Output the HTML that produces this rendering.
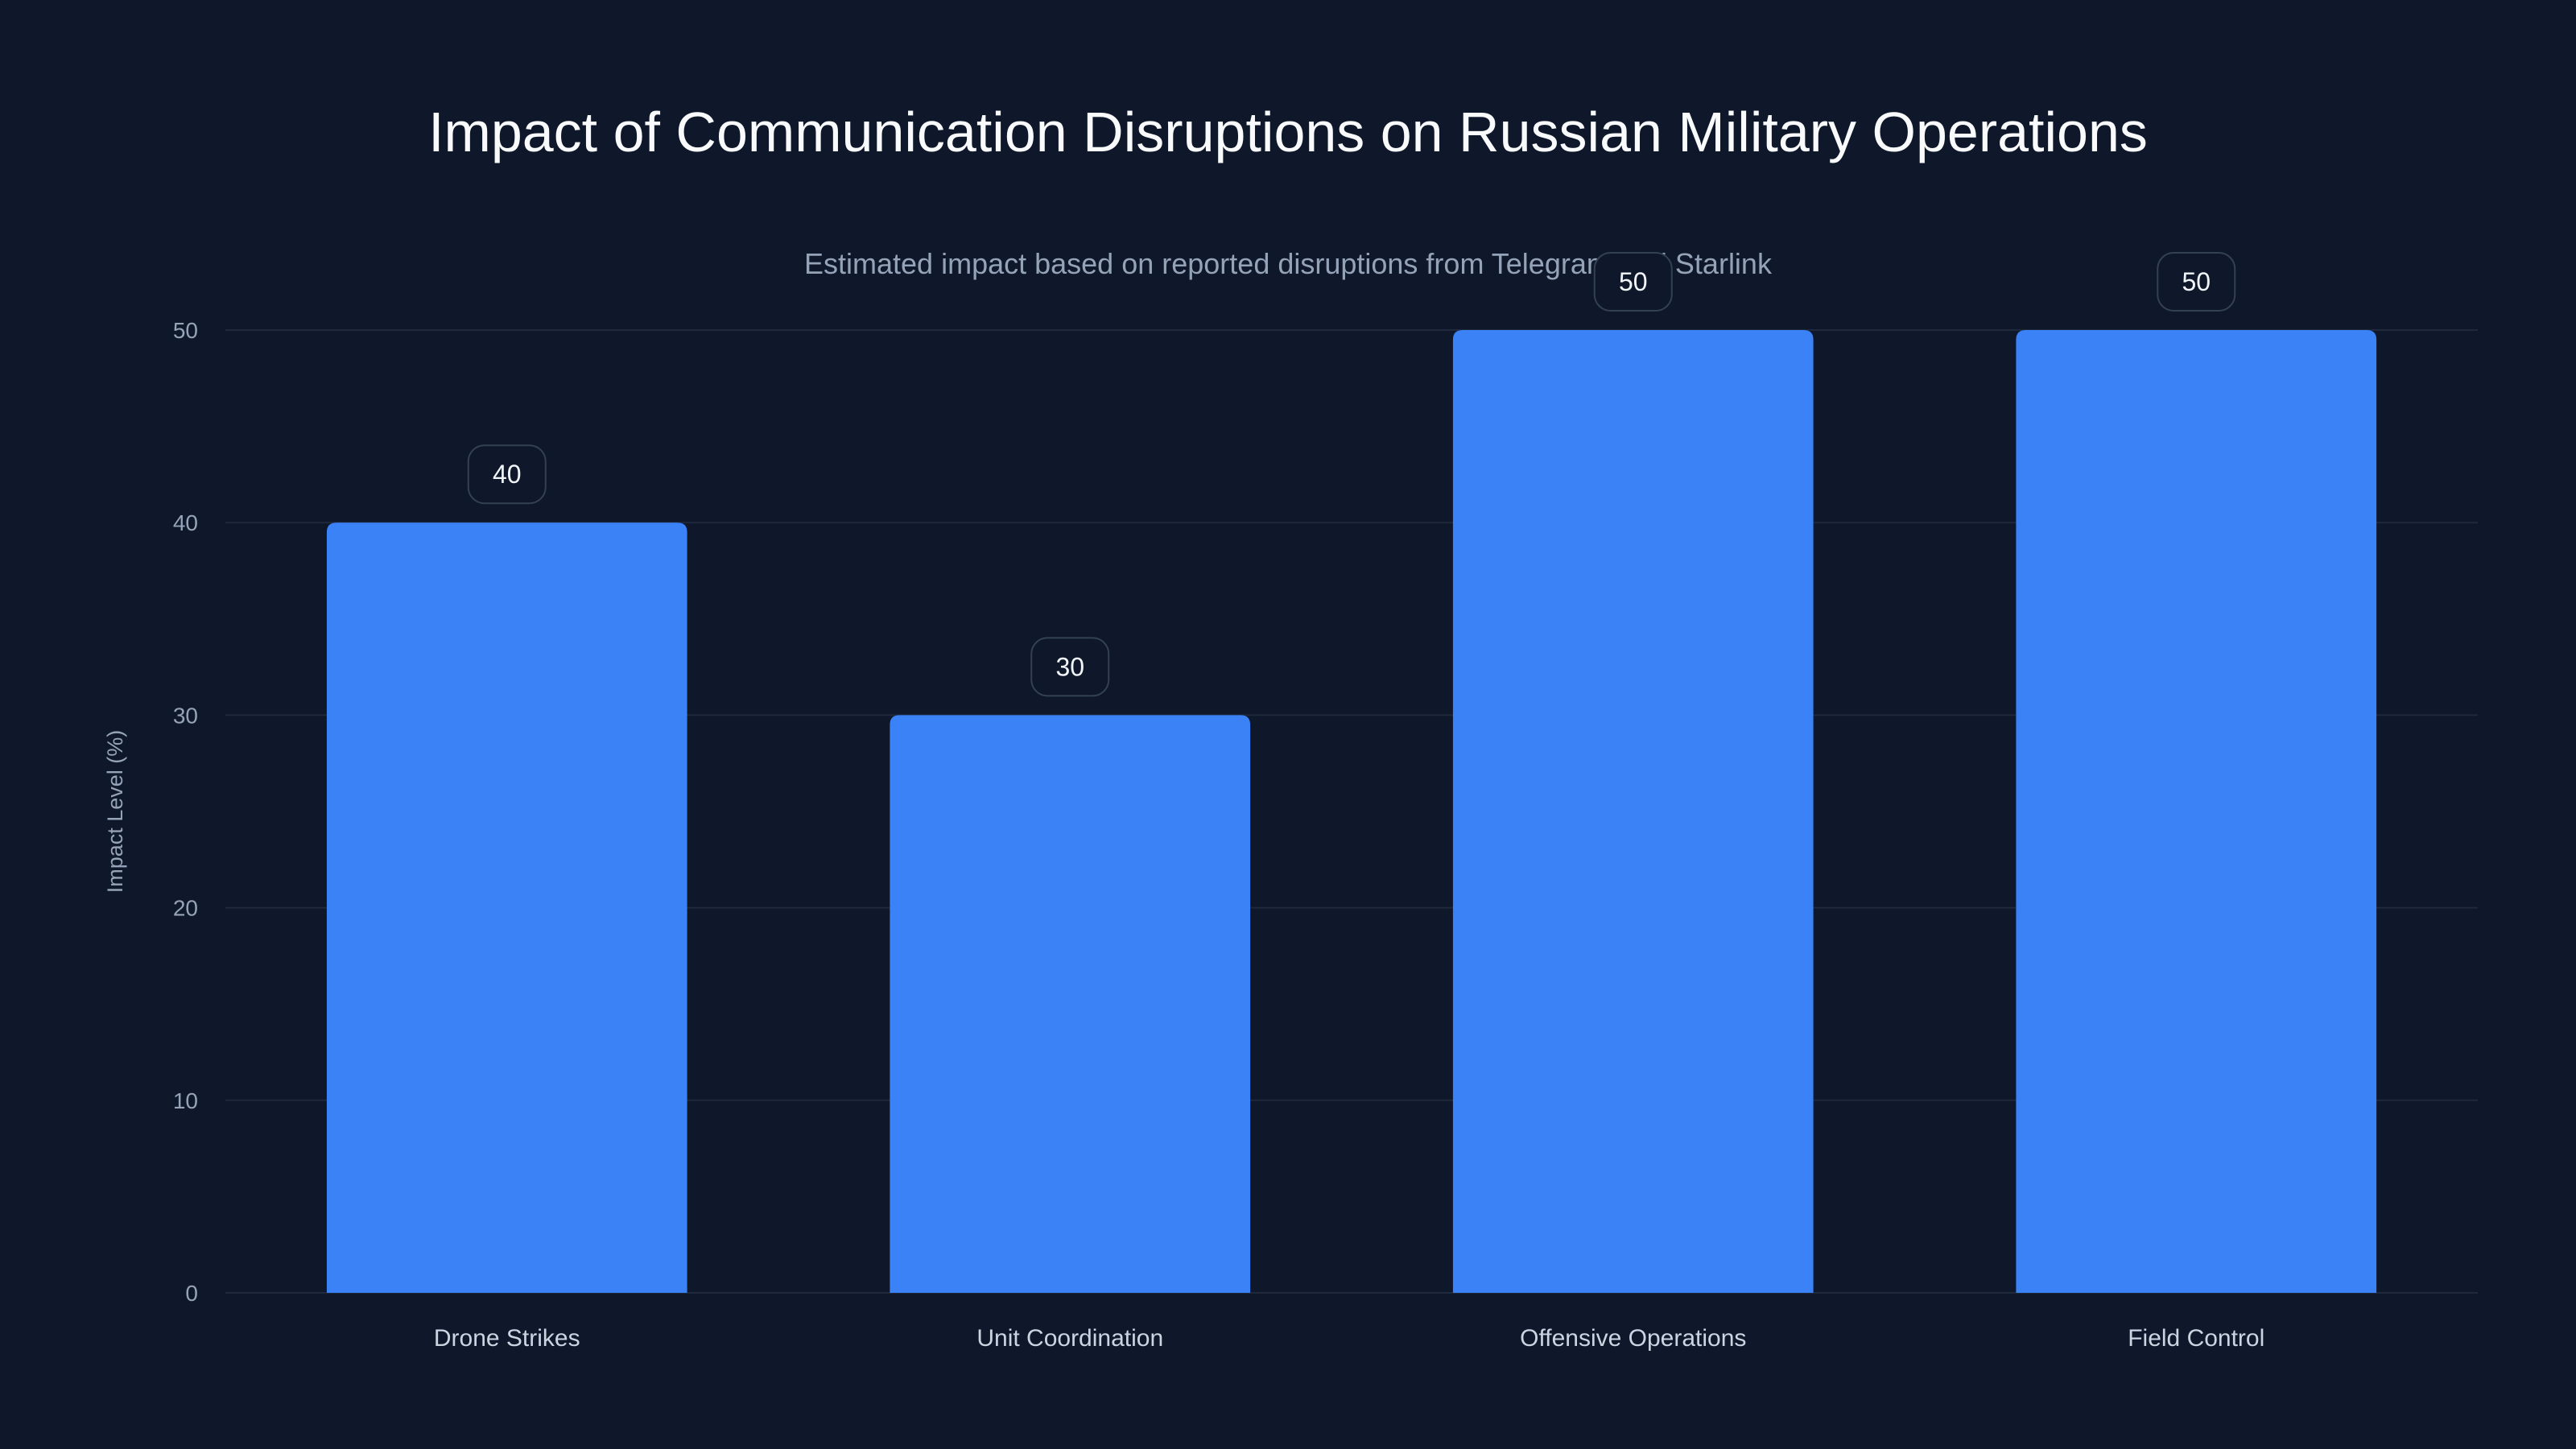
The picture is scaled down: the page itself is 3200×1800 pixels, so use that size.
<!DOCTYPE html>
<html><head><meta charset="utf-8"><style>
html,body{margin:0;padding:0;background:#0f172a;}
svg{display:block;font-family:"Liberation Sans",sans-serif;}
</style></head><body>
<svg id="chart" width="3200" height="1800" viewBox="0 0 3200 1800">
<rect width="3200" height="1800" fill="#0f172a"/>
<text x="1600" y="188" text-anchor="middle" font-size="70" fill="#f8fafc">Impact of Communication Disruptions on Russian Military Operations</text>
<text x="1600" y="340" text-anchor="middle" font-size="36" fill="#94a3b8">Estimated impact based on reported disruptions from Telegram and Starlink</text>
<text transform="translate(152,1008) rotate(-90)" text-anchor="middle" font-size="27" fill="#94a3b8">Impact Level (%)</text>
<g id="grid"></g><g id="bars"></g><g id="labels"></g>
</svg>
<script>
const categories = ["Drone Strikes","Unit Coordination","Offensive Operations","Field Control"];
const values = [40,30,50,50];
const yTicks = [0,10,20,30,40,50];
const NS="http://www.w3.org/2000/svg";
const L=280,R=3078,T=410,B=1606,yMax=50;
const y=v=>B-(v/yMax)*(B-T);
const band=(R-L)/categories.length;
const xc=i=>L+band*(i+0.5);
const bw=band*0.64;
function mk(tag,attrs,parent){const e=document.createElementNS(NS,tag);for(const k in attrs)e.setAttribute(k,attrs[k]);parent.appendChild(e);return e;}
const grid=document.getElementById('grid'),bars=document.getElementById('bars'),labels=document.getElementById('labels');
yTicks.forEach(t=>{
  const ln=mk('line',{x1:L,x2:R,y1:y(t),y2:y(t),stroke:'#1e293b','stroke-width':2},grid);
  
  
  const tx=mk('text',{x:246,y:y(t)+10,'text-anchor':'end','font-size':28,fill:'#94a3b8'},grid);
  tx.textContent=t;
  
  
});
categories.forEach((c,i)=>{
  const v=values[i],x0=xc(i)-bw/2,yt=y(v),r=12;
  const p=mk('path',{d:`M${x0},${B}V${yt+r}Q${x0},${yt} ${x0+r},${yt}H${x0+bw-r}Q${x0+bw},${yt} ${x0+bw},${yt+r}V${B}Z`,fill:'#3b82f6'},bars);
  
  
  const g=mk('g',{},labels);
  
  
  mk('rect',{x:xc(i)-48,y:yt-96,width:96,height:72,rx:20,fill:'#0f172a',stroke:'#334155','stroke-width':2},g);
  const vt=mk('text',{x:xc(i),y:yt-49,'text-anchor':'middle','font-size':32,fill:'#f1f5f9'},g);
  vt.textContent=v;
  const ct=mk('text',{x:xc(i),y:1672,'text-anchor':'middle','font-size':30,fill:'#cbd5e1'},labels);
  ct.textContent=c;
  
  
});
</script>
</body></html>
